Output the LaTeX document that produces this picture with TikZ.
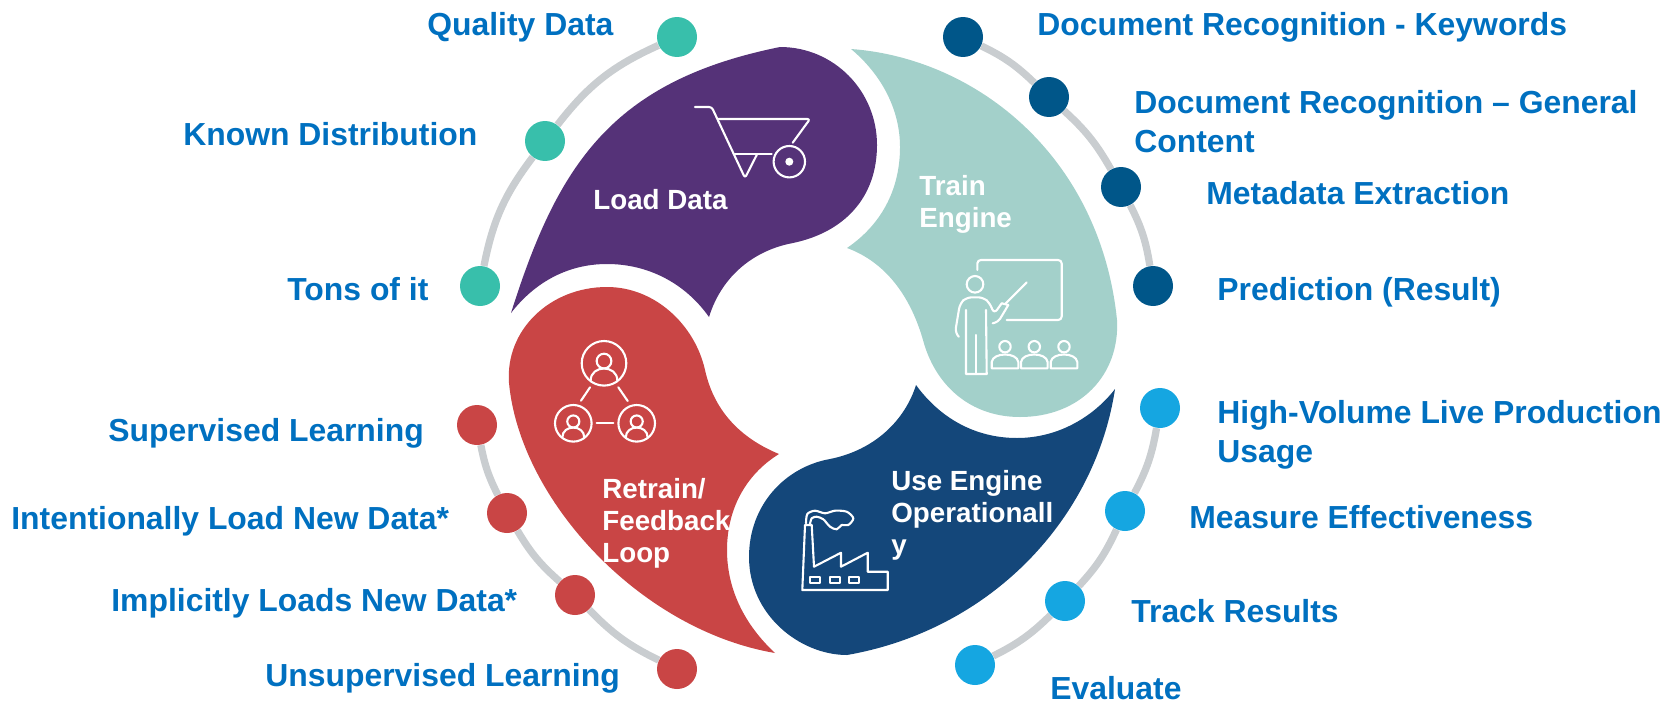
\documentclass[tikz,border=0pt]{standalone}
\usepackage{fontspec}
\setmainfont{Liberation Sans}
\definecolor{LoadPurple}{HTML}{553278}
\definecolor{TrainTeal}{HTML}{A3D0CA}
\definecolor{UseNavy}{HTML}{14477A}
\definecolor{RetrainRed}{HTML}{C94545}
\definecolor{DotTeal}{HTML}{38BFAB}
\definecolor{DotDark}{HTML}{005689}
\definecolor{DotSky}{HTML}{15A6E1}
\definecolor{RingGray}{HTML}{C9CDD0}
\definecolor{LabelBlue}{HTML}{0070C0}
\usetikzlibrary{backgrounds}
\begin{document}
\begin{tikzpicture}[x=0.02cm,y=-0.02cm,
        dot/.style={circle,minimum size=0.8cm,inner sep=0pt},
        lab/.style={anchor=west,inner sep=0pt,align=left,text=LabelBlue,
                    font=\fontsize{18.15}{22.2}\selectfont\bfseries},
        inlab/.style={anchor=west,inner sep=0pt,align=left,text=white,
                    font=\fontsize{15.8}{18.2}\selectfont\bfseries},
        ring/.style={RingGray,line width=0.145cm},
        icon/.style={draw=white,line width=0.042cm,line join=round,line cap=round}]

        \useasboundingbox (0,0) rectangle (1665,703);

        % petals
        \fill[LoadPurple] (511,313) .. controls (558,164) and (612,81) .. (780,47)
              .. controls (834,47) and (877,91) .. (877,145)
              .. controls (877,197) and (845,232) .. (793,243)
              .. controls (755,250) and (722,275) .. (709,317)
              .. controls (685,283) and (648,264) .. (607,264)
              .. controls (568,264) and (535,282) .. (511,313) -- cycle;
        \fill[TrainTeal] (851,49) .. controls (975,58) and (1100,155) .. (1117,320)
              .. controls (1120,375) and (1080,417) .. (1020,417)
              .. controls (970,417) and (935,385) .. (923,340)
              .. controls (910,295) and (885,262) .. (847,248)
              .. controls (885,222) and (900,185) .. (900,147)
              .. controls (900,110) and (882,75) .. (851,49) -- cycle;
        \fill[UseNavy] (1115,389) .. controls (1095,520) and (990,630) .. (847,655)
              .. controls (800,655) and (749,615) .. (749,557)
              .. controls (749,505) and (785,467) .. (830,459)
              .. controls (875,450) and (905,420) .. (916,385)
              .. controls (940,418) and (975,438) .. (1017,438)
              .. controls (1060,438) and (1095,415) .. (1115,389) -- cycle;
        \fill[RetrainRed] (775,653) .. controls (640,630) and (520,500) .. (509,383)
              .. controls (505,330) and (550,287) .. (607,287)
              .. controls (655,287) and (695,325) .. (705,370)
              .. controls (715,415) and (745,440) .. (779,454)
              .. controls (745,475) and (727,510) .. (727,550)
              .. controls (727,590) and (745,625) .. (775,653) -- cycle;

        % dots
        \node[dot,fill=DotTeal] (qual)  at (677,37)  {};
        \node[dot,fill=DotTeal] (known) at (545,141) {};
        \node[dot,fill=DotTeal] (tons)  at (480,286) {};
        \node[dot,fill=DotDark] (keyw)  at (963,37)  {};
        \node[dot,fill=DotDark] (gen)   at (1049,97) {};
        \node[dot,fill=DotDark] (meta)  at (1121,187) {};
        \node[dot,fill=DotDark] (pred)  at (1153,286) {};
        \node[dot,fill=DotSky]  (high)  at (1160,408) {};
        \node[dot,fill=DotSky]  (meas)  at (1125,511) {};
        \node[dot,fill=DotSky]  (track) at (1065,601) {};
        \node[dot,fill=DotSky]  (eval)  at (975,665) {};
        \node[dot,fill=RetrainRed] (sup)   at (477,425) {};
        \node[dot,fill=RetrainRed] (inten) at (507,513) {};
        \node[dot,fill=RetrainRed] (impl)  at (575,595) {};
        \node[dot,fill=RetrainRed] (unsup) at (677,669) {};

        \begin{scope}[on background layer]
          \foreach \a/\b/\ang in {tons/known/13,known/qual/14,keyw/gen/9,gen/meta/9,meta/pred/9,
                                  high/meas/9,meas/track/9,track/eval/9,
                                  unsup/impl/10,impl/inten/9,inten/sup/8}{
            \draw[ring] (\a) to[bend left=\ang] (\b);
          }
        \end{scope}

        % labels
        \node[lab] (lqual)  at (427,27)  {Quality Data};
        \node[lab] (lknown) at (183,134) {Known Distribution};
        \node[lab] (ltons)  at (287,289) {Tons of it};
        \node[lab] (lkeyw)  at (1037,27) {Document Recognition - Keywords};
        \node[lab] (lgen)   at (1134,122) {Document Recognition – General\\Content};
        \node[lab] (lmeta)  at (1206,193) {Metadata Extraction};
        \node[lab] (lpred)  at (1217,292) {Prediction (Result)};
        \node[lab] (lhigh)  at (1217,435) {High-Volume Live Production\\Usage};
        \node[lab] (lmeas)  at (1189,517) {Measure Effectiveness};
        \node[lab] (ltrack) at (1131,611) {Track Results};
        \node[lab] (leval)  at (1050,688) {Evaluate};
        \node[lab] (lsup)   at (108,433) {Supervised Learning};
        \node[lab] (linten) at (11,521)  {Intentionally Load New Data*};
        \node[lab] (limpl)  at (111,603) {Implicitly Loads New Data*};
        \node[lab] (lunsup) at (265,678) {Unsupervised Learning};

        \node[inlab] (load)    at (593,200) {Load Data};
        \node[inlab] (train)   at (919,204) {Train\\Engine};
        \node[inlab] (retrain) at (602,523) {Retrain/\\Feedback\\Loop};
        \node[inlab] (use)     at (891,515) {Use Engine\\Operationall\\y};

        % wheelbarrow
        \draw[icon,rounded corners=1.5pt] (695,107) -- (711.7,107) -- (745,178) -- (756.7,155);
        \draw[icon] (735,154.3) -- (771.7,154.3);
        \draw[icon,rounded corners=1.5pt] (718.3,119) -- (810,119) -- (792.7,142.7);
        \draw[icon] (789.3,161.7) circle (15.7);
        \fill[white] (789.3,161.7) circle (4);

        % teacher
        \draw[icon,rounded corners=2pt] (977.3,270) -- (977.3,260) -- (1061.7,260)
              -- (1061.7,320) -- (1006.7,320);
        \draw[icon] (975,284.3) circle (8.3);
        \draw[icon,rounded corners=3pt] (958,336) -- (955,333) -- (960,303.3) -- (966.7,297.3)
              -- (983.3,297.3) -- (990,303.3) -- (994,314) -- (1001.7,303.3);
        \draw[icon] (1005,304) -- (1026.7,282.3);
        \draw[icon,rounded corners=2pt] (1008.3,305) -- (998.3,321.7) -- (992.7,323.3);
        \draw[icon] (1001.7,303.3) -- (1008.3,305);
        \draw[icon] (966,310) -- (966,374) -- (986.7,374) -- (986,310);
        \draw[icon] (975.7,335) -- (975.7,374);
        \foreach \sx in {1005,1034.3,1064}{
          \draw[icon] (\sx,346.7) circle (5.7);
          \draw[icon] (\sx-13.3,368.3) -- (\sx-13.3,362) .. controls (\sx-12,352) and (\sx+12,352)
                .. (\sx+13.3,362) -- (\sx+13.3,368.3) -- cycle;
        }

        % network
        \foreach \px/\py/\pr in {604/363.3/22.3,573.3/423.3/18.3,636.7/423.3/18.3}{
          \draw[icon] (\px,\py) circle (\pr);
          \draw[icon] (\px,\py-0.1*\pr) circle (0.33*\pr);
          \draw[icon] (\px-0.6*\pr,\py+0.78*\pr) .. controls (\px-0.6*\pr,\py+0.05*\pr) and (\px+0.6*\pr,\py+0.05*\pr)
                .. (\px+0.6*\pr,\py+0.78*\pr);
        }
        \draw[icon] (590,387.3) -- (581,400.7);
        \draw[icon] (618.3,387.3) -- (627.7,401);
        \draw[icon] (596.7,423.3) -- (613.3,423.3);

        % factory
        \draw[icon,line cap=butt] (802.3,590) -- (887.7,590) -- (887.7,571.7) -- (867.7,571.7) -- (867.7,552.7)
              -- (841,566.7) -- (841,552.7) -- (814,566.7) -- (811.7,525) -- (805,525) -- cycle;
        \foreach \wx in {810,830,849.3}{
          \draw[icon] (\wx,576.7) rectangle (\wx+10,582.7);
        }
        \draw[icon] plot[smooth] coordinates {(806,523.3) (807.3,514) (815,510.7) (825,513.3) (835,510.7)
              (846.7,511.7) (853.3,518.3) (848.3,525) (841.7,525) (836.7,529.3) (830,526.7)
              (823.3,519.3) (816.7,516.7) (811.7,518.3) (810,524)};
      \end{tikzpicture}
\end{document}
